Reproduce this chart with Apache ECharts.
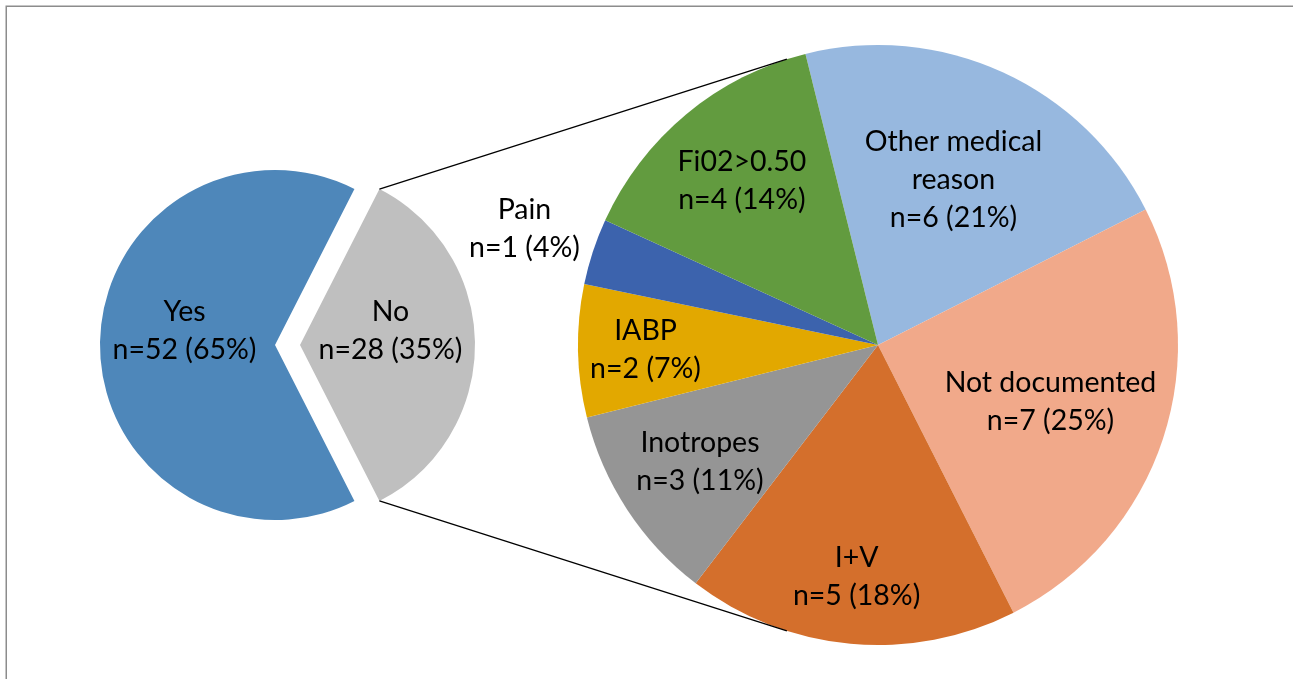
<!DOCTYPE html>
<html>
<head>
<meta charset="utf-8">
<script src="https://cdn.jsdelivr.net/npm/echarts@6/dist/echarts.min.js"></script>
<style>
html,body{margin:0;padding:0;background:#fff;}
#chart{width:1293px;height:679px;}
</style>
</head>
<body>
<div id="chart"></div>
<script>
// ---- data ----
const leftCats = ['Yes', 'No'];
const leftVals = [52, 28];
const rightCats = ['Other medical\nreason', 'Not documented', 'I+V', 'Inotropes', 'IABP', 'Pain', 'Fi02>0.50'];
const rightVals = [6, 7, 5, 3, 2, 1, 4];

// ---- styles / layout ----
const leftColors = ['#4E87BA', '#BFBFBF'];
const rightColors = ['#97B8DF', '#F1A98A', '#D46F2C', '#959595', '#E2A800', '#3C63AD', '#629B3F'];
const L = { cx: 275, cy: 345, r: 175, off: 25 };
const R = { cx: 878, cy: 345, r: 300, start: 104 };
// label distance groups (fraction of right radius -> which slices)
const labelGroups = [
  { f: 0.595, idx: [0, 1] },
  { f: 0.765, idx: [2, 4] },
  { f: 0.70, idx: [3, 6] },
  { f: 1.23, idx: [5] }
];
const font = { fontFamily: 'Lato', fontSize: 28.5, lineHeight: 38, color: '#000' };

const leftTotal = leftVals.reduce((a, b) => a + b, 0);
const rightTotal = rightVals.reduce((a, b) => a + b, 0);
const noHalf = leftVals[1] / leftTotal * 180; // half angle of "No" slice
const leftStart = 180 + leftVals[0] / leftTotal * 180;
const T = 'rgba(0,0,0,0)';

function leftSeries(showIdx, cx) {
  return {
    type: 'pie', silent: true, center: [cx, L.cy], radius: [0, L.r],
    startAngle: leftStart, clockwise: true, avoidLabelOverlap: false,
    emphasis: { disabled: true },
    labelLine: { show: false },
    data: leftVals.map((v, i) => ({
      value: v, name: leftCats[i],
      itemStyle: { color: i === showIdx ? leftColors[i] : T, borderWidth: 0 },
      label: {
        show: i === showIdx, position: 'inside', offset: [0, -14], ...font,
        formatter: () => leftCats[i] + '\nn=' + v + ' (' + Math.round(v / leftTotal * 100) + '%)'
      }
    }))
  };
}

const series = [
  leftSeries(0, L.cx),
  leftSeries(1, L.cx + L.off),
  {
    type: 'pie', silent: true, center: [R.cx, R.cy], radius: [0, R.r],
    startAngle: R.start, clockwise: true, avoidLabelOverlap: false,
    emphasis: { disabled: true },
    label: { show: false }, labelLine: { show: false },
    data: rightVals.map((v, i) => ({ value: v, name: rightCats[i], itemStyle: { color: rightColors[i], borderWidth: 0 } }))
  }
];
labelGroups.forEach(g => {
  series.push({
    type: 'pie', silent: true, center: [R.cx, R.cy], radius: [0, R.r * g.f * 2],
    startAngle: R.start, clockwise: true, avoidLabelOverlap: false,
    emphasis: { disabled: true }, labelLine: { show: false }, z: 5,
    data: rightVals.map((v, i) => ({
      value: v, name: rightCats[i],
      itemStyle: { color: T, borderWidth: 0 },
      label: {
        show: g.idx.indexOf(i) >= 0, position: 'inside', ...font,
        formatter: () => rightCats[i] + '\nn=' + v + ' (' + Math.round(v / rightTotal * 100) + '%)'
      }
    }))
  });
});

// connector lines: tangent from the tips of the "No" slice to the right pie
function tangent(px, py, sign) {
  const dx = px - R.cx, dy = py - R.cy;
  const d = Math.hypot(dx, dy);
  const base = Math.atan2(dy, dx);
  const a = base + sign * Math.acos(R.r / d);
  return [R.cx + R.r * Math.cos(a), R.cy + R.r * Math.sin(a)];
}
const noCx = L.cx + L.off;
const rad = noHalf * Math.PI / 180;
const tipTop = [noCx + L.r * Math.cos(rad), L.cy - L.r * Math.sin(rad)];
const tipBot = [noCx + L.r * Math.cos(rad), L.cy + L.r * Math.sin(rad)];
const tTop = tangent(tipTop[0], tipTop[1], 1);
const tBot = tangent(tipBot[0], tipBot[1], -1);

const chart = echarts.init(document.getElementById('chart'), null, { renderer: 'canvas' });
chart.setOption({
  backgroundColor: '#fff',
  animation: false,
  series: series,
  graphic: [
    { type: 'rect', silent: true, shape: { x: 6.25, y: 6.25, width: 1400, height: 800 }, style: { fill: null, stroke: '#8C8C8C', lineWidth: 1.5 } },
    { type: 'line', silent: true, z: 10, shape: { x1: tipTop[0], y1: tipTop[1], x2: tTop[0], y2: tTop[1] }, style: { stroke: '#000', lineWidth: 1.3 } },
    { type: 'line', silent: true, z: 10, shape: { x1: tipBot[0], y1: tipBot[1], x2: tBot[0], y2: tBot[1] }, style: { stroke: '#000', lineWidth: 1.3 } }
  ]
});
</script>
</body>
</html>
